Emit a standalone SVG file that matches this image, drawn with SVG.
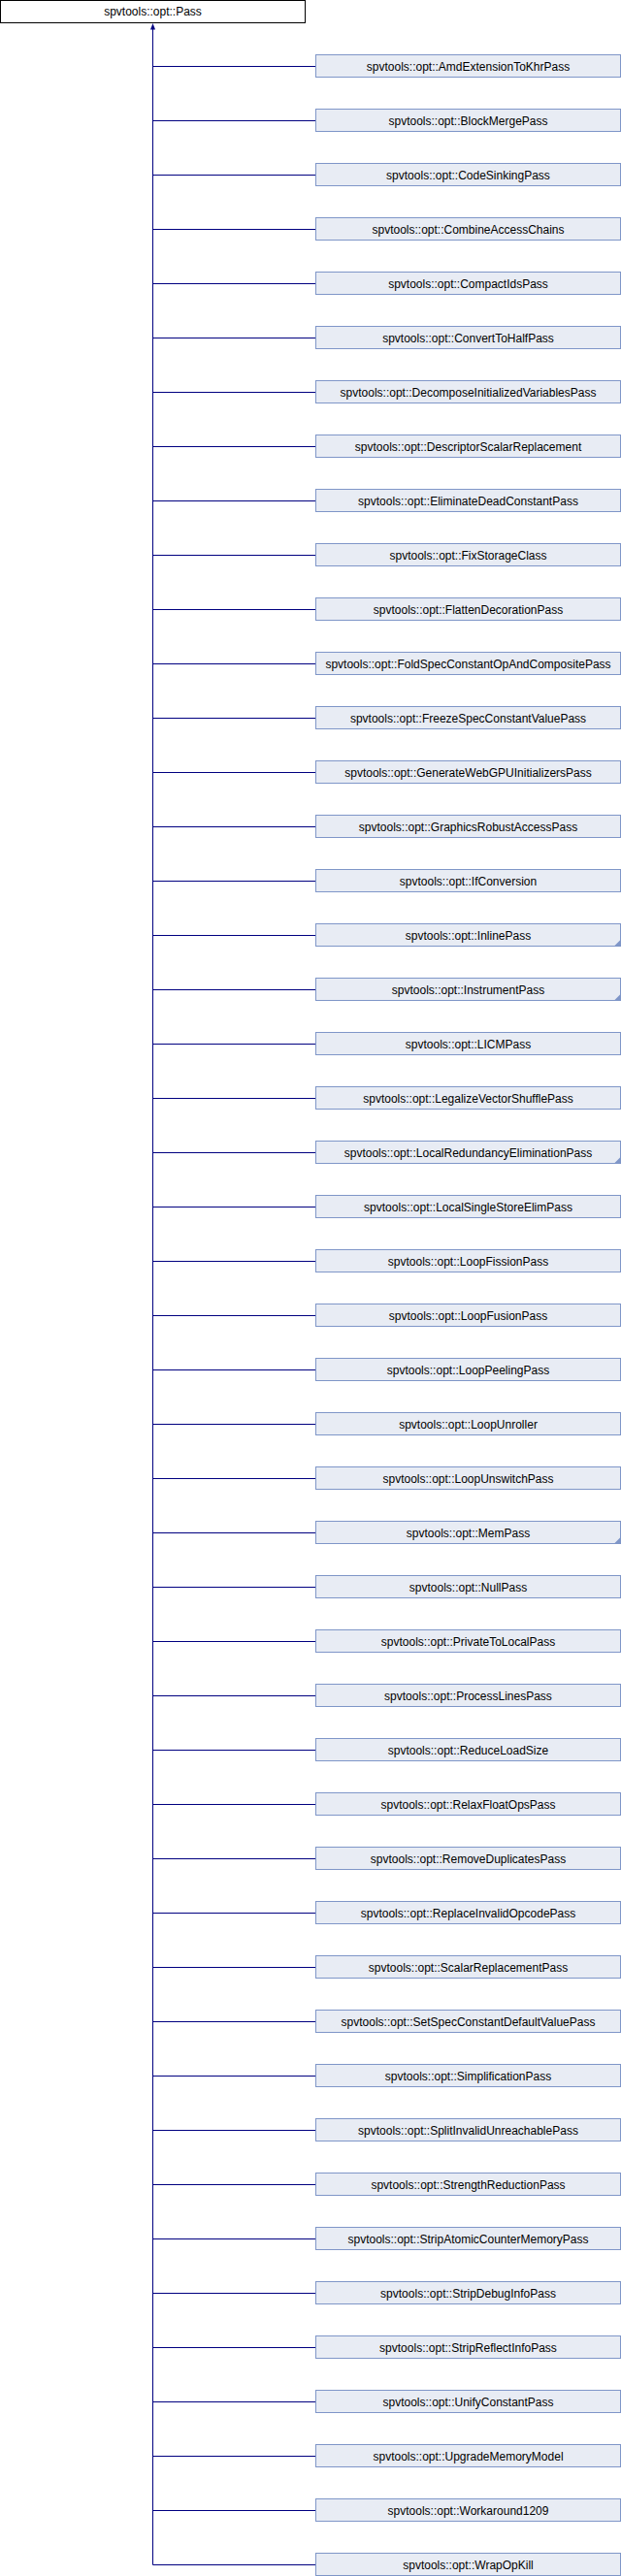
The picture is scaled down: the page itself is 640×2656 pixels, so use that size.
<svg xmlns="http://www.w3.org/2000/svg" width="640" height="2656" viewBox="0 0 640 2656">
<style>
.b{fill:#E8ECF4;stroke:#7F96C8;stroke-width:1}
.r{fill:#FFFFFF;stroke:#000000;stroke-width:1}
.t{font-family:"Liberation Sans",Arial,sans-serif;font-size:12px;fill:#000;text-anchor:middle}
.c{stroke:#000080;stroke-width:1;fill:none}
.f{fill:#7F96C8}
</style>
<rect width="640" height="2656" fill="#FFFFFF"/>
<g id="connectors">
<path class="c" d="M157.5,30 V2644.5"/>
<path d="M157.5,24 L155,30.5 L160,30.5 Z" fill="#000080"/>
<path class="c" d="M157.5,68.5 H325.5 M157.5,124.5 H325.5 M157.5,180.5 H325.5 M157.5,236.5 H325.5 M157.5,292.5 H325.5 M157.5,348.5 H325.5 M157.5,404.5 H325.5 M157.5,460.5 H325.5 M157.5,516.5 H325.5 M157.5,572.5 H325.5 M157.5,628.5 H325.5 M157.5,684.5 H325.5 M157.5,740.5 H325.5 M157.5,796.5 H325.5 M157.5,852.5 H325.5 M157.5,908.5 H325.5 M157.5,964.5 H325.5 M157.5,1020.5 H325.5 M157.5,1076.5 H325.5 M157.5,1132.5 H325.5 M157.5,1188.5 H325.5 M157.5,1244.5 H325.5 M157.5,1300.5 H325.5 M157.5,1356.5 H325.5 M157.5,1412.5 H325.5 M157.5,1468.5 H325.5 M157.5,1524.5 H325.5 M157.5,1580.5 H325.5 M157.5,1636.5 H325.5 M157.5,1692.5 H325.5 M157.5,1748.5 H325.5 M157.5,1804.5 H325.5 M157.5,1860.5 H325.5 M157.5,1916.5 H325.5 M157.5,1972.5 H325.5 M157.5,2028.5 H325.5 M157.5,2084.5 H325.5 M157.5,2140.5 H325.5 M157.5,2196.5 H325.5 M157.5,2252.5 H325.5 M157.5,2308.5 H325.5 M157.5,2364.5 H325.5 M157.5,2420.5 H325.5 M157.5,2476.5 H325.5 M157.5,2532.5 H325.5 M157.5,2588.5 H325.5 M157.5,2644.5 H325.5"/>
</g>
<g id="n_Pass"><rect class="r" x="0.5" y="0.5" width="314" height="23"/><text class="t" x="157.5" y="16">spvtools::opt::Pass</text></g>
<g id="n0" transform="translate(0,0)"><rect class="b" x="325.5" y="56.5" width="314" height="23"/><text class="t" x="482.5" y="72.5">spvtools::opt::AmdExtensionToKhrPass</text></g>
<g id="n1" transform="translate(0,56)"><rect class="b" x="325.5" y="56.5" width="314" height="23"/><text class="t" x="482.5" y="72.5">spvtools::opt::BlockMergePass</text></g>
<g id="n2" transform="translate(0,112)"><rect class="b" x="325.5" y="56.5" width="314" height="23"/><text class="t" x="482.5" y="72.5">spvtools::opt::CodeSinkingPass</text></g>
<g id="n3" transform="translate(0,168)"><rect class="b" x="325.5" y="56.5" width="314" height="23"/><text class="t" x="482.5" y="72.5">spvtools::opt::CombineAccessChains</text></g>
<g id="n4" transform="translate(0,224)"><rect class="b" x="325.5" y="56.5" width="314" height="23"/><text class="t" x="482.5" y="72.5">spvtools::opt::CompactIdsPass</text></g>
<g id="n5" transform="translate(0,280)"><rect class="b" x="325.5" y="56.5" width="314" height="23"/><text class="t" x="482.5" y="72.5">spvtools::opt::ConvertToHalfPass</text></g>
<g id="n6" transform="translate(0,336)"><rect class="b" x="325.5" y="56.5" width="314" height="23"/><text class="t" x="482.5" y="72.5">spvtools::opt::DecomposeInitializedVariablesPass</text></g>
<g id="n7" transform="translate(0,392)"><rect class="b" x="325.5" y="56.5" width="314" height="23"/><text class="t" x="482.5" y="72.5">spvtools::opt::DescriptorScalarReplacement</text></g>
<g id="n8" transform="translate(0,448)"><rect class="b" x="325.5" y="56.5" width="314" height="23"/><text class="t" x="482.5" y="72.5">spvtools::opt::EliminateDeadConstantPass</text></g>
<g id="n9" transform="translate(0,504)"><rect class="b" x="325.5" y="56.5" width="314" height="23"/><text class="t" x="482.5" y="72.5">spvtools::opt::FixStorageClass</text></g>
<g id="n10" transform="translate(0,560)"><rect class="b" x="325.5" y="56.5" width="314" height="23"/><text class="t" x="482.5" y="72.5">spvtools::opt::FlattenDecorationPass</text></g>
<g id="n11" transform="translate(0,616)"><rect class="b" x="325.5" y="56.5" width="314" height="23"/><text class="t" x="482.5" y="72.5">spvtools::opt::FoldSpecConstantOpAndCompositePass</text></g>
<g id="n12" transform="translate(0,672)"><rect class="b" x="325.5" y="56.5" width="314" height="23"/><text class="t" x="482.5" y="72.5">spvtools::opt::FreezeSpecConstantValuePass</text></g>
<g id="n13" transform="translate(0,728)"><rect class="b" x="325.5" y="56.5" width="314" height="23"/><text class="t" x="482.5" y="72.5">spvtools::opt::GenerateWebGPUInitializersPass</text></g>
<g id="n14" transform="translate(0,784)"><rect class="b" x="325.5" y="56.5" width="314" height="23"/><text class="t" x="482.5" y="72.5">spvtools::opt::GraphicsRobustAccessPass</text></g>
<g id="n15" transform="translate(0,840)"><rect class="b" x="325.5" y="56.5" width="314" height="23"/><text class="t" x="482.5" y="72.5">spvtools::opt::IfConversion</text></g>
<g id="n16" transform="translate(0,896)"><rect class="b" x="325.5" y="56.5" width="314" height="23"/><path class="f" d="M633,79.5 L639.5,79.5 L639.5,73 Z"/><text class="t" x="482.5" y="72.5">spvtools::opt::InlinePass</text></g>
<g id="n17" transform="translate(0,952)"><rect class="b" x="325.5" y="56.5" width="314" height="23"/><path class="f" d="M633,79.5 L639.5,79.5 L639.5,73 Z"/><text class="t" x="482.5" y="72.5">spvtools::opt::InstrumentPass</text></g>
<g id="n18" transform="translate(0,1008)"><rect class="b" x="325.5" y="56.5" width="314" height="23"/><text class="t" x="482.5" y="72.5">spvtools::opt::LICMPass</text></g>
<g id="n19" transform="translate(0,1064)"><rect class="b" x="325.5" y="56.5" width="314" height="23"/><text class="t" x="482.5" y="72.5">spvtools::opt::LegalizeVectorShufflePass</text></g>
<g id="n20" transform="translate(0,1120)"><rect class="b" x="325.5" y="56.5" width="314" height="23"/><path class="f" d="M633,79.5 L639.5,79.5 L639.5,73 Z"/><text class="t" x="482.5" y="72.5">spvtools::opt::LocalRedundancyEliminationPass</text></g>
<g id="n21" transform="translate(0,1176)"><rect class="b" x="325.5" y="56.5" width="314" height="23"/><text class="t" x="482.5" y="72.5">spvtools::opt::LocalSingleStoreElimPass</text></g>
<g id="n22" transform="translate(0,1232)"><rect class="b" x="325.5" y="56.5" width="314" height="23"/><text class="t" x="482.5" y="72.5">spvtools::opt::LoopFissionPass</text></g>
<g id="n23" transform="translate(0,1288)"><rect class="b" x="325.5" y="56.5" width="314" height="23"/><text class="t" x="482.5" y="72.5">spvtools::opt::LoopFusionPass</text></g>
<g id="n24" transform="translate(0,1344)"><rect class="b" x="325.5" y="56.5" width="314" height="23"/><text class="t" x="482.5" y="72.5">spvtools::opt::LoopPeelingPass</text></g>
<g id="n25" transform="translate(0,1400)"><rect class="b" x="325.5" y="56.5" width="314" height="23"/><text class="t" x="482.5" y="72.5">spvtools::opt::LoopUnroller</text></g>
<g id="n26" transform="translate(0,1456)"><rect class="b" x="325.5" y="56.5" width="314" height="23"/><text class="t" x="482.5" y="72.5">spvtools::opt::LoopUnswitchPass</text></g>
<g id="n27" transform="translate(0,1512)"><rect class="b" x="325.5" y="56.5" width="314" height="23"/><path class="f" d="M633,79.5 L639.5,79.5 L639.5,73 Z"/><text class="t" x="482.5" y="72.5">spvtools::opt::MemPass</text></g>
<g id="n28" transform="translate(0,1568)"><rect class="b" x="325.5" y="56.5" width="314" height="23"/><text class="t" x="482.5" y="72.5">spvtools::opt::NullPass</text></g>
<g id="n29" transform="translate(0,1624)"><rect class="b" x="325.5" y="56.5" width="314" height="23"/><text class="t" x="482.5" y="72.5">spvtools::opt::PrivateToLocalPass</text></g>
<g id="n30" transform="translate(0,1680)"><rect class="b" x="325.5" y="56.5" width="314" height="23"/><text class="t" x="482.5" y="72.5">spvtools::opt::ProcessLinesPass</text></g>
<g id="n31" transform="translate(0,1736)"><rect class="b" x="325.5" y="56.5" width="314" height="23"/><text class="t" x="482.5" y="72.5">spvtools::opt::ReduceLoadSize</text></g>
<g id="n32" transform="translate(0,1792)"><rect class="b" x="325.5" y="56.5" width="314" height="23"/><text class="t" x="482.5" y="72.5">spvtools::opt::RelaxFloatOpsPass</text></g>
<g id="n33" transform="translate(0,1848)"><rect class="b" x="325.5" y="56.5" width="314" height="23"/><text class="t" x="482.5" y="72.5">spvtools::opt::RemoveDuplicatesPass</text></g>
<g id="n34" transform="translate(0,1904)"><rect class="b" x="325.5" y="56.5" width="314" height="23"/><text class="t" x="482.5" y="72.5">spvtools::opt::ReplaceInvalidOpcodePass</text></g>
<g id="n35" transform="translate(0,1960)"><rect class="b" x="325.5" y="56.5" width="314" height="23"/><text class="t" x="482.5" y="72.5">spvtools::opt::ScalarReplacementPass</text></g>
<g id="n36" transform="translate(0,2016)"><rect class="b" x="325.5" y="56.5" width="314" height="23"/><text class="t" x="482.5" y="72.5">spvtools::opt::SetSpecConstantDefaultValuePass</text></g>
<g id="n37" transform="translate(0,2072)"><rect class="b" x="325.5" y="56.5" width="314" height="23"/><text class="t" x="482.5" y="72.5">spvtools::opt::SimplificationPass</text></g>
<g id="n38" transform="translate(0,2128)"><rect class="b" x="325.5" y="56.5" width="314" height="23"/><text class="t" x="482.5" y="72.5">spvtools::opt::SplitInvalidUnreachablePass</text></g>
<g id="n39" transform="translate(0,2184)"><rect class="b" x="325.5" y="56.5" width="314" height="23"/><text class="t" x="482.5" y="72.5">spvtools::opt::StrengthReductionPass</text></g>
<g id="n40" transform="translate(0,2240)"><rect class="b" x="325.5" y="56.5" width="314" height="23"/><text class="t" x="482.5" y="72.5">spvtools::opt::StripAtomicCounterMemoryPass</text></g>
<g id="n41" transform="translate(0,2296)"><rect class="b" x="325.5" y="56.5" width="314" height="23"/><text class="t" x="482.5" y="72.5">spvtools::opt::StripDebugInfoPass</text></g>
<g id="n42" transform="translate(0,2352)"><rect class="b" x="325.5" y="56.5" width="314" height="23"/><text class="t" x="482.5" y="72.5">spvtools::opt::StripReflectInfoPass</text></g>
<g id="n43" transform="translate(0,2408)"><rect class="b" x="325.5" y="56.5" width="314" height="23"/><text class="t" x="482.5" y="72.5">spvtools::opt::UnifyConstantPass</text></g>
<g id="n44" transform="translate(0,2464)"><rect class="b" x="325.5" y="56.5" width="314" height="23"/><text class="t" x="482.5" y="72.5">spvtools::opt::UpgradeMemoryModel</text></g>
<g id="n45" transform="translate(0,2520)"><rect class="b" x="325.5" y="56.5" width="314" height="23"/><text class="t" x="482.5" y="72.5">spvtools::opt::Workaround1209</text></g>
<g id="n46" transform="translate(0,2576)"><rect class="b" x="325.5" y="56.5" width="314" height="23"/><text class="t" x="482.5" y="72.5">spvtools::opt::WrapOpKill</text></g>
</svg>
